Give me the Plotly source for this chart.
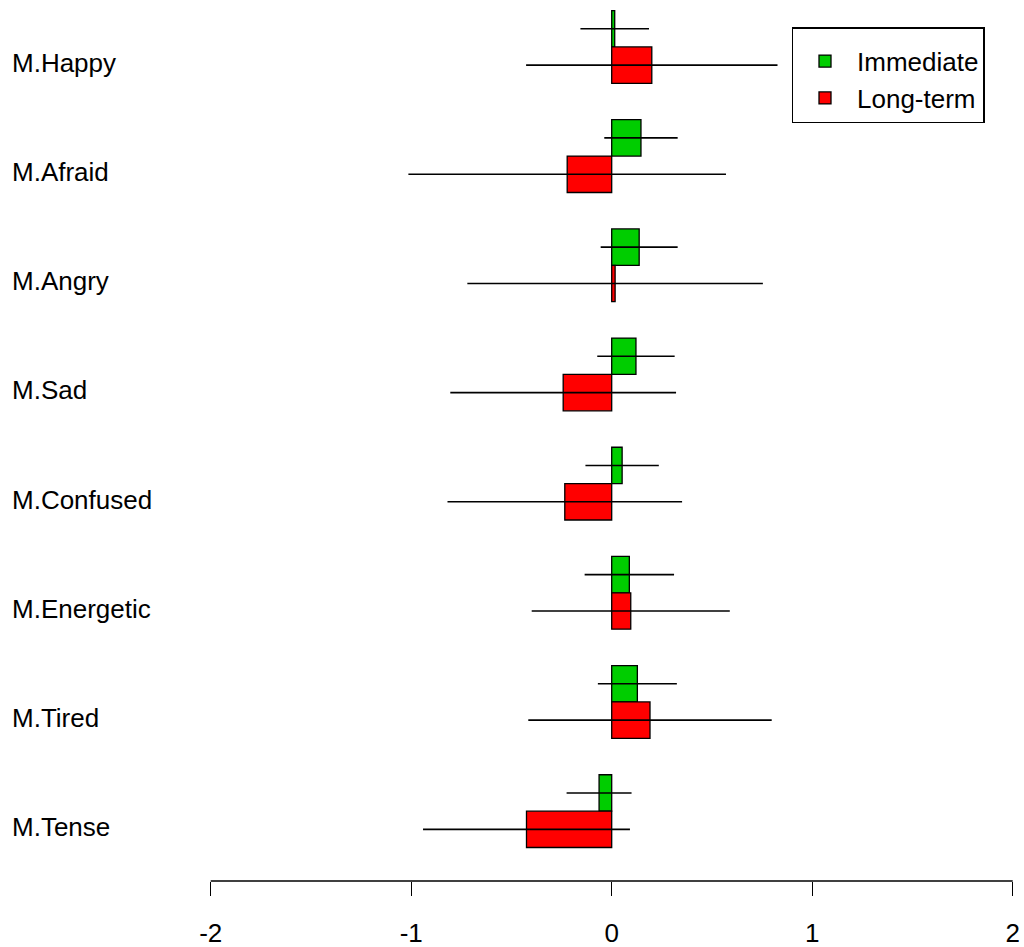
import plotly.graph_objects as go
import numpy as np

# ---- data (top to bottom as shown) ----
categories = ["M.Happy", "M.Afraid", "M.Angry", "M.Sad", "M.Confused",
              "M.Energetic", "M.Tired", "M.Tense"]
immediate = [0.015, 0.146, 0.137, 0.121, 0.052, 0.088, 0.128, -0.063]
immediate_err = [0.171, 0.183, 0.192, 0.193, 0.183, 0.223, 0.197, 0.162]
longterm = [0.200, -0.222, 0.017, -0.242, -0.234, 0.095, 0.191, -0.425]
longterm_err = [0.627, 0.792, 0.737, 0.563, 0.585, 0.494, 0.607, 0.516]
tick_vals = [-2, -1, 0, 1, 2]
tick_text = ["-2", "-1", "0", "1", "2"]

FONT = "Liberation Sans, Arial, sans-serif"
GREEN = "#00CD00"
RED = "#FF0000"

# group positions (R barplot style: bottom group = last category)
n = len(categories)
k = np.arange(n, 0, -1)          # Happy -> 8 ... Tense -> 1
red_y = 3 * k - 1.5
green_y = 3 * k - 0.5

# body margin is removed below, so the figure starts at (0, 0)
W, H = 1024, 947
L = 179
B = H - 881
plot_w = W - L
plot_h = H - B
px_per_x = 200.5
zero_px = 611.7
x_range = [(L - zero_px) / px_per_x, (W - zero_px) / px_per_x]
px_per_y = 36.39
y_range = [0.08, 0.08 + plot_h / px_per_y]

fig = go.Figure()
fig.add_trace(go.Bar(
    y=green_y, x=immediate, orientation="h", width=1, name="Immediate",
    marker=dict(color=GREEN, line=dict(color="black", width=1.3)),
    error_x=dict(type="data", array=immediate_err, visible=True,
                 color="black", thickness=1.6, width=0),
))
fig.add_trace(go.Bar(
    y=red_y, x=longterm, orientation="h", width=1, name="Long-term",
    marker=dict(color=RED, line=dict(color="black", width=1.3)),
    error_x=dict(type="data", array=longterm_err, visible=True,
                 color="black", thickness=1.6, width=0),
))

# category labels, left aligned at the figure edge
label_x = (10 - L) / plot_w
for cat, yy in zip(categories, red_y):
    fig.add_annotation(x=label_x, xref="paper", y=yy + 0.06, yref="y",
                       text=cat, showarrow=False, xanchor="left",
                       yanchor="middle",
                       font=dict(family=FONT, size=26, color="black"))

# axis line spanning only the tick range (R style)
fig.add_shape(type="line", xref="x", yref="paper", x0=tick_vals[0],
              x1=tick_vals[-1], y0=0, y1=0,
              line=dict(color="black", width=1.3))

fig.update_layout(
    width=W, height=H,
    margin=dict(l=L, r=0, t=0, b=B, pad=0, autoexpand=False),
    paper_bgcolor="white", plot_bgcolor="white",
    barmode="overlay",
    font=dict(family=FONT, size=26, color="black"),
    showlegend=True,
    legend=dict(
        x=(791.7 - L) / plot_w, y=1 - 27.3 / plot_h,
        xanchor="left", yanchor="top",
        bordercolor="black", borderwidth=1.3, bgcolor="white",
        font=dict(family=FONT, size=26, color="black"),
        itemwidth=54, tracegroupgap=0,
        title=dict(text=" ", font=dict(size=7)),
    ),
    xaxis=dict(range=x_range, tickvals=tick_vals, ticktext=tick_text,
               ticks="outside", ticklen=14, tickwidth=1.3,
               tickcolor="black", showgrid=False, zeroline=False,
               showline=False, ticklabelstandoff=15, automargin=False,
               ticklabeloverflow="allow",
               tickfont=dict(family=FONT, size=26, color="black")),
    yaxis=dict(range=y_range, visible=False, showgrid=False,
               zeroline=False, automargin=False),
)

fig.write_html("out.html",
               config={"displayModeBar": False},
               post_script="document.body.style.margin='0';"
                           "document.body.style.overflow='hidden';")
